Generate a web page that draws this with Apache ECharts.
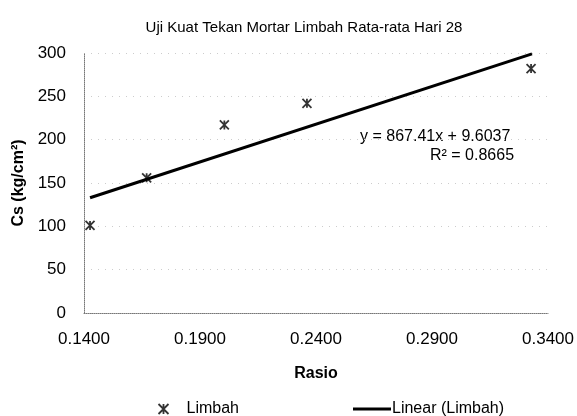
<!DOCTYPE html>
<html>
<head>
<meta charset="utf-8">
<script src="https://cdn.jsdelivr.net/npm/echarts@6/dist/echarts.min.js"></script>
<style>
  html, body { margin: 0; padding: 0; background: #fff; }
  #main { width: 577px; height: 416px; }
</style>
</head>
<body>
<div id="main"></div>
<script>
  // 数据：比例 (Rasio) 与抗压强度 Cs
  var rasio = [0.1426, 0.1670, 0.2005, 0.2361, 0.3327];
  var cs = [101, 156, 217, 242, 282];
  // 趋势线两端点
  var trendX = [0.1426, 0.3331];
  var trendY = [133, 299];
  var eqText = 'y = 867.41x + 9.6037';
  var r2Text = 'R² = 0.8665';

  var myChart = echarts.init(document.getElementById('main'));
  var font = '"Liberation Sans", Arial, sans-serif';
  // 星形标记：X 加一条竖线
  var starPath = 'path://M0,0L10,10M10,0L0,10M5,0L5,10';

  var pts = rasio.map(function (x, i) { return [x, cs[i]]; });
  var trend = trendX.map(function (x, i) { return [x, trendY[i]]; });

  var option = {
    backgroundColor: '#fff',
    animation: false,
    textStyle: { fontFamily: font, color: '#000' },
    title: {
      text: 'Uji Kuat Tekan Mortar Limbah Rata-rata Hari 28',
      left: 299,
      textAlign: 'center',
      top: 15,
      textStyle: {
        fontFamily: '"Liberation Sans Narrow", "Liberation Sans", Arial, sans-serif',
        fontSize: 15, fontWeight: 'normal', color: '#000'
      }
    },
    grid: { left: 84, right: 27, top: 53, bottom: 103 },
    legend: [{
      left: 151, top: 396,
      itemWidth: 12, itemHeight: 10, itemGap: 10,
      data: [{ name: 'Limbah', icon: starPath,
        itemStyle: { color: 'none', borderColor: '#000', borderWidth: 1.8 } }],
      textStyle: { fontSize: 16, fontFamily: font, color: '#000', padding: [0, 0, 0, 12] }
    }, {
      left: 348, top: 396,
      itemWidth: 38, itemHeight: 3, itemGap: 0,
      data: [{ name: 'Linear (Limbah)', icon: 'rect' }],
      textStyle: { fontSize: 16, fontFamily: font, color: '#000', padding: [0, 0, 0, -4] }
    }],
    xAxis: {
      type: 'value',
      min: 0.14, max: 0.34, interval: 0.05,
      name: 'Rasio',
      nameLocation: 'middle',
      nameGap: 53,
      nameTextStyle: { fontSize: 16, fontWeight: 'bold', fontFamily: font, color: '#000' },
      axisLine: { lineStyle: { color: '#777', type: 'dotted', width: 1 } },
      axisTick: { show: false },
      axisLabel: {
        fontSize: 17, color: '#000', margin: 18,
        formatter: function (v) { return v.toFixed(4); }
      },
      splitLine: { show: false }
    },
    yAxis: {
      type: 'value',
      min: 0, max: 300, interval: 50,
      name: 'Cs (kg/cm²)',
      nameLocation: 'middle',
      nameGap: 55,
      nameTextStyle: { fontSize: 16, fontWeight: 'bold', fontFamily: font, color: '#000' },
      axisLine: { show: true, lineStyle: { color: '#777', type: 'dotted', width: 1 } },
      axisTick: { show: false },
      axisLabel: { fontSize: 17, color: '#000', margin: 18 },
      splitLine: { show: true, lineStyle: { color: '#ccc', type: [1, 6], width: 1 } }
    },
    graphic: [{
      type: 'text', left: 360, top: 129,
      style: { text: eqText, fontSize: 16, fontFamily: font, fill: '#000' }
    }, {
      type: 'text', left: 430, top: 148,
      style: { text: r2Text, fontSize: 16, fontFamily: font, fill: '#000' }
    }],
    series: [{
      name: 'Limbah',
      type: 'scatter',
      data: pts,
      symbol: starPath,
      symbolSize: 9,
      itemStyle: { color: 'none', borderColor: '#000', borderWidth: 1.8 },
      z: 3
    }, {
      name: 'Linear (Limbah)',
      type: 'line',
      data: trend,
      symbol: 'none',
      itemStyle: { color: '#000' },
      lineStyle: { color: '#000', width: 3 },
      z: 2
    }]
  };

  myChart.setOption(option);
</script>
</body>
</html>
